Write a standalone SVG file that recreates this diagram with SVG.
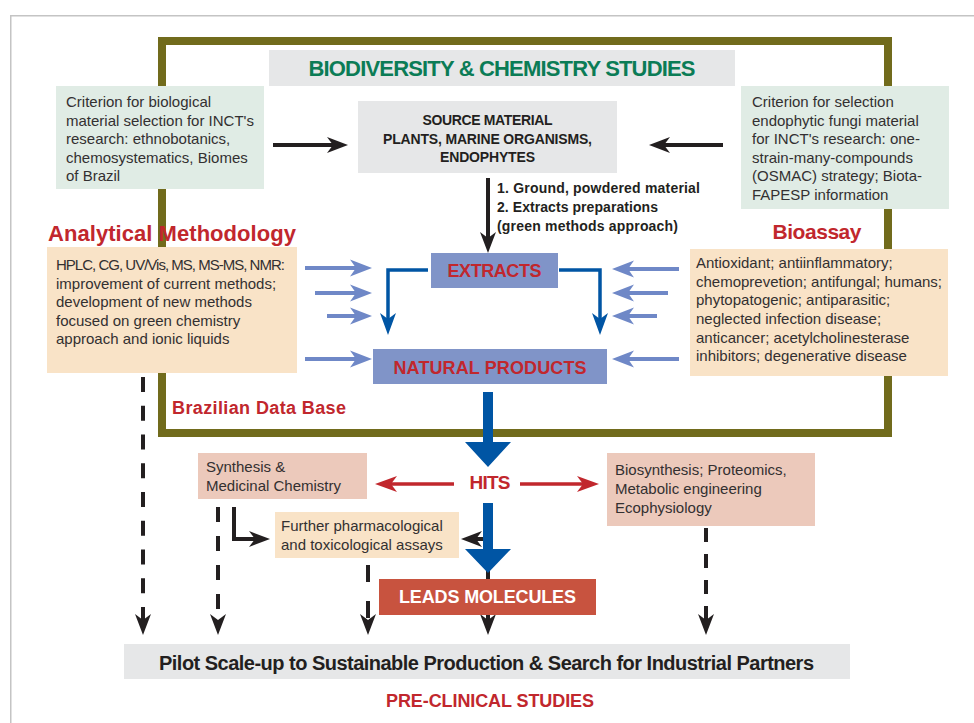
<svg xmlns="http://www.w3.org/2000/svg" width="974" height="723" viewBox="0 0 974 723">
<defs>
<style>
text{font-family:"Liberation Sans",Arial,sans-serif;}
.body{font-size:15px;fill:#333031;}
.bold{font-weight:bold;fill:#231f20;}
.red{font-weight:bold;fill:#c1272d;}
.mid{text-anchor:middle;}
.gray{fill:#e6e7e8;}
.green{fill:#e0ece5;}
.peach{fill:#f9e3c7;}
.pink{fill:#ecc9bb;}
.bluebox{fill:#8094c8;}
.k{stroke:#231f20;stroke-width:4;fill:none;}
.kd{stroke:#231f20;stroke-width:4;fill:none;}
.lb{stroke:#6f88c7;stroke-width:4;fill:none;}
.db{stroke:#0055a4;stroke-width:3.5;fill:none;}
.rd{stroke:#c1272d;stroke-width:3.5;fill:none;}
.thick{fill:#0055a4;}
</style>
<marker id="ahK" viewBox="-14 -9 23 18" refX="0" refY="0" markerWidth="23" markerHeight="18" markerUnits="userSpaceOnUse" orient="auto"><path d="M8,0 L-13,-8 L-7,0 L-13,8 Z" fill="#231f20"/></marker>
<marker id="ahLB" viewBox="-17 -10 24 20" refX="0" refY="0" markerWidth="24" markerHeight="20" markerUnits="userSpaceOnUse" orient="auto"><path d="M6,0 L-16,-8.5 L-10,0 L-16,8.5 Z" fill="#6f88c7"/></marker>
<marker id="ahDB" viewBox="-17 -10 24 20" refX="0" refY="0" markerWidth="24" markerHeight="20" markerUnits="userSpaceOnUse" orient="auto"><path d="M6,0 L-16,-8 L-10,0 L-16,8 Z" fill="#0055a4"/></marker>
<marker id="ahR" viewBox="-17 -10 24 20" refX="0" refY="0" markerWidth="24" markerHeight="20" markerUnits="userSpaceOnUse" orient="auto"><path d="M6,0 L-16,-8 L-10,0 L-16,8 Z" fill="#c1272d"/></marker>
</defs>
<rect width="974" height="723" fill="#ffffff"/>
<path d="M10.75,723 V15.75 H974" fill="none" stroke="#c4c4c4" stroke-width="1.5"/>
<rect id="frame" x="162" y="41" width="726" height="392" fill="none" stroke="#716b1c" stroke-width="8"/>

<g id="connectors">
<line class="k" x1="273" y1="145" x2="340" y2="145" marker-end="url(#ahK)"/>
<line class="k" x1="723" y1="145" x2="657" y2="145" marker-end="url(#ahK)"/>
<line class="k" x1="488" y1="178" x2="488" y2="245" marker-end="url(#ahK)"/>
<polyline class="db" points="428,270 388,270 388,329" marker-end="url(#ahDB)"/>
<polyline class="db" points="559,270 600,270 600,329" marker-end="url(#ahDB)"/>
<line class="lb" x1="305" y1="268" x2="366" y2="268" marker-end="url(#ahLB)"/>
<line class="lb" x1="315" y1="293" x2="366" y2="293" marker-end="url(#ahLB)"/>
<line class="lb" x1="327" y1="316" x2="366" y2="316" marker-end="url(#ahLB)"/>
<line class="lb" x1="305" y1="359" x2="366" y2="359" marker-end="url(#ahLB)"/>
<line class="lb" x1="679" y1="269" x2="618" y2="269" marker-end="url(#ahLB)"/>
<line class="lb" x1="668" y1="293" x2="618" y2="293" marker-end="url(#ahLB)"/>
<line class="lb" x1="657" y1="316" x2="618" y2="316" marker-end="url(#ahLB)"/>
<line class="lb" x1="679" y1="359" x2="618" y2="359" marker-end="url(#ahLB)"/>
<line class="rd" x1="454" y1="484" x2="381" y2="484" marker-end="url(#ahR)"/>
<line class="rd" x1="520" y1="484" x2="593" y2="484" marker-end="url(#ahR)"/>
<line class="k" x1="488" y1="540" x2="488" y2="580"/>
<line class="k" x1="490" y1="539" x2="469" y2="539" marker-end="url(#ahK)"/>
<polygon class="thick" points="483,392 493,392 493,442 511,442 488,467 465,442 483,442"/>
<polygon class="thick" points="483,503 493,503 493,549 511,549 488,573 465,549 483,549"/>
<line class="k" x1="488" y1="614" x2="488" y2="627" marker-end="url(#ahK)"/>
<polyline class="k" points="234,507 234,539 262,539" marker-end="url(#ahK)"/>
<line class="kd" x1="143" y1="377" x2="143" y2="627" stroke-dasharray="15 13.75" marker-end="url(#ahK)"/>
<line class="kd" x1="218" y1="507" x2="218" y2="627" stroke-dasharray="15 14" marker-end="url(#ahK)"/>
<line class="kd" x1="368" y1="565" x2="368" y2="627" stroke-dasharray="17 19" marker-end="url(#ahK)"/>
<line class="kd" x1="706" y1="528" x2="706" y2="627" stroke-dasharray="14 12" marker-end="url(#ahK)"/>
</g>

<g id="title">
<rect class="gray" x="269" y="50" width="466" height="36"/>
<text x="502" y="75.5" class="mid" font-size="22" font-weight="bold" fill="#0b7c56" textLength="387">BIODIVERSITY &amp; CHEMISTRY STUDIES</text>
</g>
<g id="criterion-left">
<rect class="green" x="56" y="86" width="208" height="103"/>
<text class="body" x="66" y="107">Criterion for biological</text>
<text class="body" x="66" y="125.5">material selection for INCT's</text>
<text class="body" x="66" y="144">research: ethnobotanics,</text>
<text class="body" x="66" y="162.5">chemosystematics, Biomes</text>
<text class="body" x="66" y="181">of Brazil</text>
</g>
<g id="criterion-right">
<rect class="green" x="741" y="86" width="208" height="123"/>
<text class="body" x="752" y="107">Criterion for selection</text>
<text class="body" x="752" y="125.5">endophytic fungi material</text>
<text class="body" x="752" y="144">for INCT's research: one-</text>
<text class="body" x="752" y="162.5">strain-many-compounds</text>
<text class="body" x="752" y="181">(OSMAC) strategy; Biota-</text>
<text class="body" x="752" y="199.5">FAPESP information</text>
</g>
<g id="source">
<rect class="gray" x="358" y="101" width="259" height="72"/>
<text class="bold mid" x="487.5" y="125" font-size="14" textLength="130">SOURCE MATERIAL</text>
<text class="bold mid" x="487.5" y="143.5" font-size="14" textLength="209">PLANTS, MARINE ORGANISMS,</text>
<text class="bold mid" x="487.5" y="162" font-size="14" textLength="95">ENDOPHYTES</text>
</g>
<g id="process-label">
<text class="bold" x="497" y="193" font-size="14" textLength="203">1. Ground, powdered material</text>
<text class="bold" x="497" y="212" font-size="14" textLength="161">2. Extracts preparations</text>
<text class="bold" x="497" y="230.5" font-size="14" textLength="181">(green methods approach)</text>
</g>
<g id="analytical">
<text class="red" x="48" y="241" font-size="22" textLength="248">Analytical Methodology</text>
<rect class="peach" x="47" y="247" width="250" height="126"/>
<text class="body" x="56" y="270" textLength="229">HPLC, CG, UV/Vis, MS, MS-MS, NMR:</text>
<text class="body" x="56" y="288.5">improvement of current methods;</text>
<text class="body" x="56" y="307">development of new methods</text>
<text class="body" x="56" y="325.5">focused on green chemistry</text>
<text class="body" x="56" y="344">approach and ionic liquids</text>
</g>
<g id="bioassay">
<text class="red mid" x="817" y="239" font-size="21" textLength="89">Bioassay</text>
<rect class="peach" x="690" y="249" width="258" height="127"/>
<text class="body" x="696" y="268">Antioxidant; antiinflammatory;</text>
<text class="body" x="696" y="286.7">chemoprevetion; antifungal; humans;</text>
<text class="body" x="696" y="305.4">phytopatogenic; antiparasitic;</text>
<text class="body" x="696" y="324">neglected infection disease;</text>
<text class="body" x="696" y="342.7">anticancer; acetylcholinesterase</text>
<text class="body" x="696" y="361.4">inhibitors; degenerative disease</text>
</g>
<g id="extracts">
<rect class="bluebox" x="431" y="253" width="127" height="35"/>
<text class="red mid" x="494.5" y="277" font-size="18" textLength="94">EXTRACTS</text>
</g>
<g id="natural-products">
<rect class="bluebox" x="373" y="349" width="234" height="35"/>
<text class="red mid" x="490" y="374" font-size="18" textLength="193">NATURAL PRODUCTS</text>
</g>
<g id="database">
<text class="red" x="172" y="414" font-size="18" textLength="174">Brazilian Data Base</text>
</g>
<g id="hits">
<text class="red mid" x="490" y="489" font-size="19" textLength="41">HITS</text>
</g>
<g id="synthesis">
<rect class="pink" x="198" y="453" width="169" height="46"/>
<text class="body" x="206" y="472">Synthesis &amp;</text>
<text class="body" x="206" y="490.5">Medicinal Chemistry</text>
</g>
<g id="biosynthesis">
<rect class="pink" x="607" y="453" width="208" height="73"/>
<text class="body" x="615" y="475">Biosynthesis; Proteomics,</text>
<text class="body" x="615" y="494">Metabolic engineering</text>
<text class="body" x="615" y="513">Ecophysiology</text>
</g>
<g id="further">
<rect class="peach" x="275" y="512" width="184" height="46"/>
<text class="body" x="281" y="531">Further pharmacological</text>
<text class="body" x="281" y="549.5">and toxicological assays</text>
</g>
<g id="leads">
<rect x="379" y="579" width="217" height="36" fill="#c8533f"/>
<text class="mid" x="487.5" y="603" font-size="18" font-weight="bold" fill="#ffffff" textLength="177">LEADS MOLECULES</text>
</g>
<g id="pilot">
<rect class="gray" x="124" y="644" width="726" height="35"/>
<text class="bold" x="159" y="670" font-size="20" textLength="655">Pilot Scale-up to Sustainable Production &amp; Search for Industrial Partners</text>
</g>
<g id="preclinical">
<text class="red" x="386" y="707" font-size="18" textLength="208">PRE-CLINICAL STUDIES</text>
</g>
</svg>
